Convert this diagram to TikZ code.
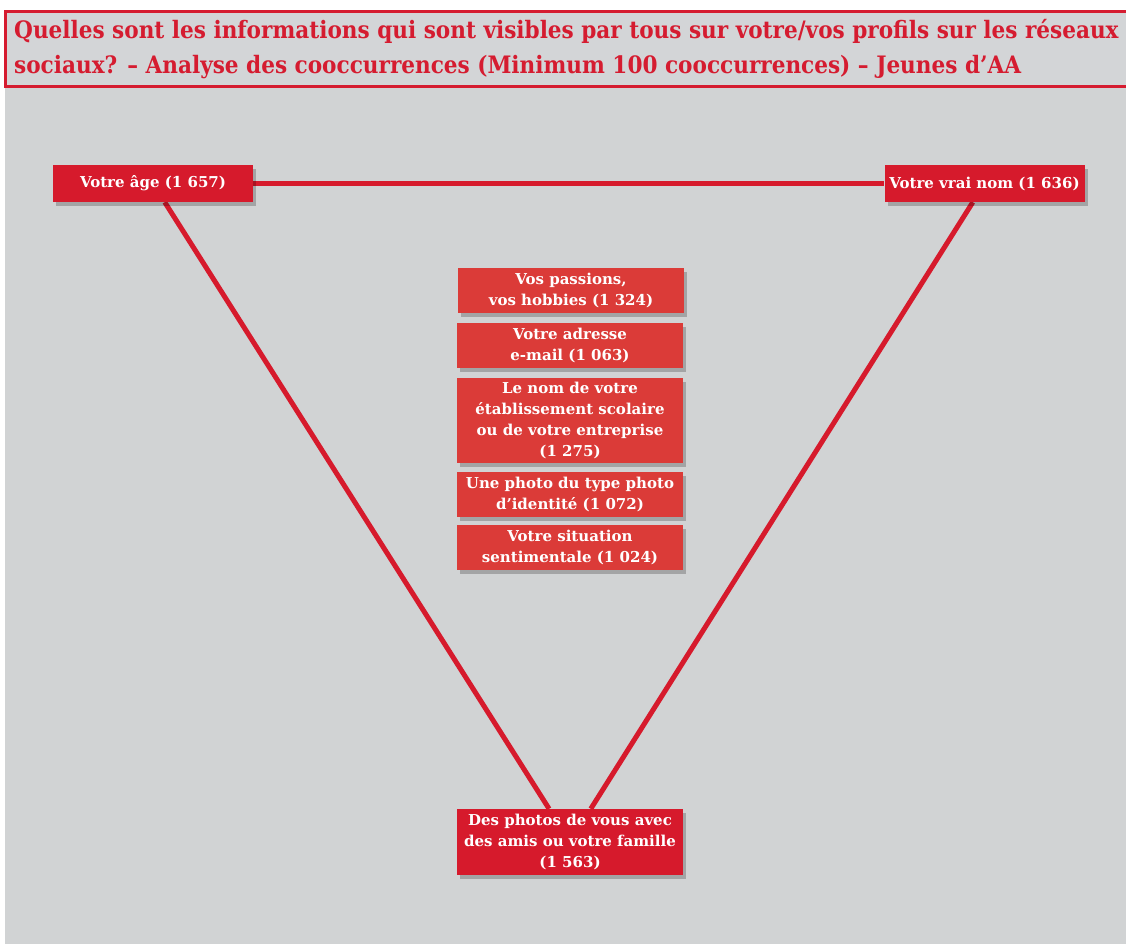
\documentclass[tikz,border=0pt]{standalone}
\usepackage{fontspec}
\newfontfamily\boxfont{DejaVu Serif}
\newfontfamily\titlefont{DejaVu Serif Condensed}
\usetikzlibrary{shadows,backgrounds}

\definecolor{panelgray}{RGB}{209,211,212}
\definecolor{titlegray}{RGB}{211,213,215}
\definecolor{darkred}{RGB}{214,26,44}
\definecolor{lightred}{RGB}{219,59,56}
\definecolor{titlered}{RGB}{213,28,48}

\begin{document}
\begin{tikzpicture}[x=1pt, y=-1pt,
    every node/.style = {align=center, text=white,
                         font=\boxfont\bfseries\fontsize{15}{21}\selectfont},
    cornern/.style    = {fill=darkred, minimum width=200pt, minimum height=37pt,
                         inner sep=3pt,
                         drop shadow={shadow xshift=3pt, shadow yshift=-4pt,
                                      opacity=.22, fill=black}},
    listn/.style      = {fill=lightred, minimum width=226pt, minimum height=45pt,
                         inner sep=3pt,
                         drop shadow={shadow xshift=3pt, shadow yshift=-4pt,
                                      opacity=.22, fill=black}},
    titlen/.style     = {align=left, text=titlered, inner sep=0pt,
                         font=\titlefont\bfseries\fontsize{24}{35}\selectfont},
    edgeln/.style     = {draw=darkred, line width=5pt}]

    \useasboundingbox (0,0) rectangle (1126,944);

    % Title
    \draw[titlered, line width=3pt, fill=titlegray] (5,12) rectangle (1140,87);
    \node[titlen, anchor=base west] (title) at (14,74)
        {Quelles sont les informations qui sont visibles par tous sur votre/vos profils sur les réseaux\\
         sociaux? – Analyse des cooccurrences (Minimum 100 cooccurrences) – Jeunes d’AA};

    % Corner nodes
    \node[cornern] (age)    at (153,183.5) {Votre âge (1 657)};
    \node[cornern] (nom)    at (984.5,183.5) {Votre vrai nom (1 636)};
    \node[cornern, minimum width=226pt, minimum height=66pt]
                   (photos) at (570,842) {Des photos de vous avec\\des amis ou votre famille\\(1 563)};

    % Middle list
    \node[listn] (passions)  at (571,290.5) {Vos passions,\\vos hobbies (1 324)};
    \node[listn] (adresse)   at (570,345)   {Votre adresse\\e-mail (1 063)};
    \node[listn, minimum height=85pt]
                 (ecole)     at (570,420.5) {Le nom de votre\\établissement scolaire\\ou de votre entreprise\\(1 275)};
    \node[listn] (identite)  at (570,494.5) {Une photo du type photo\\d’identité (1 072)};
    \node[listn] (situation) at (570,547.5) {Votre situation\\sentimentale (1 024)};

    % Background panel and edges
    \begin{pgfonlayer}{background}
      \fill[white] (0,0) rectangle (1126,944);
      \fill[panelgray] (5,87) rectangle (1126,944);
      \draw[edgeln] (age) -- (nom);
      \draw[edgeln] (age) -- (photos);
      \draw[edgeln] (nom) -- (photos);
    \end{pgfonlayer}
\end{tikzpicture}
\end{document}
